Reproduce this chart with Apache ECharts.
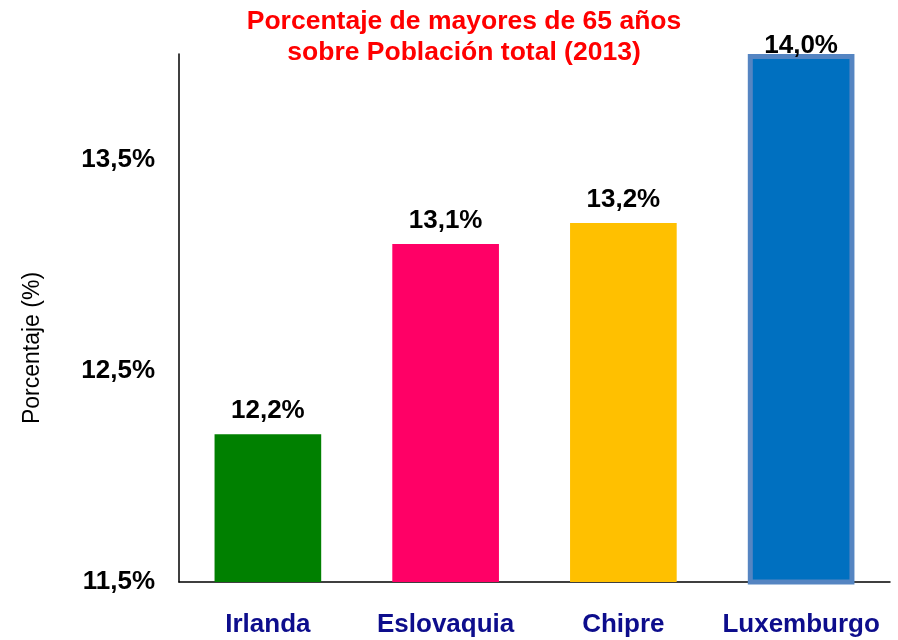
<!DOCTYPE html>
<html><head><meta charset="utf-8">
<script src="https://cdn.jsdelivr.net/npm/echarts@6/dist/echarts.min.js"></script>
<style>html,body{margin:0;padding:0;background:#fff}#c{width:898px;height:640px}</style>
</head><body><div id="c"></div>
<script>
const categories = ['Irlanda', 'Eslovaquia', 'Chipre', 'Luxemburgo'];
const values = [12.2, 13.1, 13.2, 14.0];
const barColors = ['#008000', '#ff0066', '#ffc000', '#0070c0'];
const yTickLabels = [11.5, 12.5, 13.5];
const titleText = 'Porcentaje de mayores de 65 años\nsobre Población total (2013)';
const yName = 'Porcentaje (%)';

const fmt = v => v.toFixed(1).replace('.', ',') + '%';
const F = 'Liberation Sans, Arial, sans-serif';

const chart = echarts.init(document.getElementById('c'));
chart.setOption({
  animation: false,
  title: {
    text: titleText,
    left: 459, top: 1, textAlign: 'center',
    textStyle: { color: '#ff0000', fontSize: 26.5, fontWeight: 'bold', fontFamily: F, lineHeight: 31, align: 'center' }
  },
  graphic: [{
    type: 'text', x: 33, y: 348, rotation: Math.PI / 2,
    style: { text: yName, fill: '#000', font: '23px ' + F, textAlign: 'center', textVerticalAlign: 'middle' }
  }],
  grid: { left: 179, right: 8, top: 54, bottom: 58 },
  xAxis: {
    type: 'category', data: categories,
    axisLine: { lineStyle: { color: '#000', width: 1.5 } },
    axisTick: { show: false },
    axisLabel: { interval: 0, color: '#0d0d8c', fontSize: 26, fontWeight: 'bold', fontFamily: F, margin: 30 }
  },
  yAxis: {
    type: 'value', min: 11.5, max: 14.0, interval: 0.5,
    axisLine: { show: true, lineStyle: { color: '#000', width: 1.5 } },
    axisTick: { show: false },
    splitLine: { show: false },
    axisLabel: {
      color: '#000', fontSize: 26, fontWeight: 'bold', fontFamily: F, margin: 24,
      formatter: v => yTickLabels.some(t => Math.abs(t - v) < 1e-6) ? fmt(v) : ''
    }
  },
  series: [{
    type: 'bar', barWidth: '60%',
    data: values.map((v, i) => ({
      value: v,
      itemStyle: i === 3 ? { color: barColors[i], borderColor: '#5585c2', borderWidth: 5 } : { color: barColors[i] },
      label: { distance: i === 3 ? -5 : 10 }
    })),
    label: {
      show: true, position: 'top', color: '#000', fontSize: 26, fontWeight: 'bold', fontFamily: F,
      formatter: p => fmt(p.value)
    }
  }]
});
</script></body></html>
